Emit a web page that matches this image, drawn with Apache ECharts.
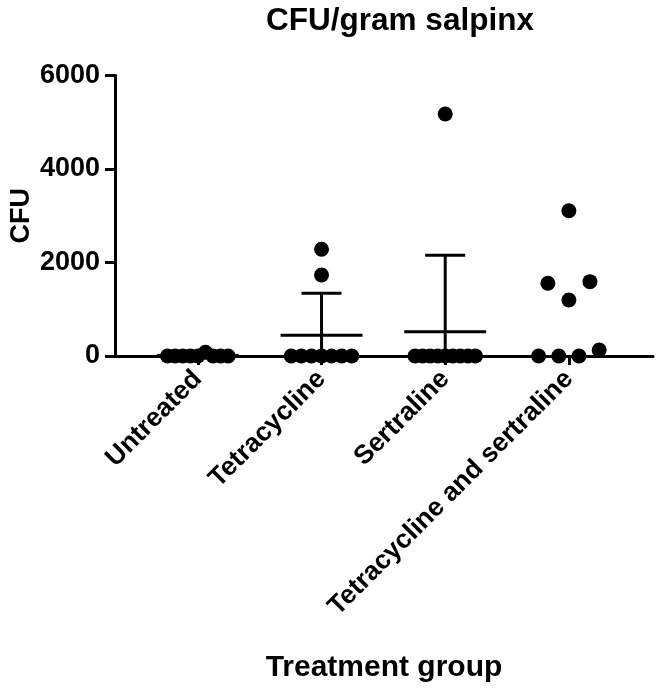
<!DOCTYPE html>
<html>
<head>
<meta charset="utf-8">
<script src="https://cdn.jsdelivr.net/npm/echarts@6/dist/echarts.min.js"></script>
<style>html,body{margin:0;padding:0;background:#fff}#c{width:660px;height:689px}</style>
</head>
<body>
<div id="c"></div>
<script>
// ---- data ----
var categories = ['Untreated', 'Tetracycline', 'Sertraline', 'Tetracycline and sertraline'];
var untreated = [0, 0, 0, 0, 0, 80, 0, 0, 0];
var tetracycline = [0, 0, 0, 2282, 1733, 0, 0, 0, 0];
var sertraline = [5176, 0, 0, 0, 0, 0, 0, 0, 0, 0];
var tetSert = [0, 0, 0, 128, 1555, 1198, 1590, 3108];
var groups = [untreated, tetracycline, sertraline, tetSert];
var errorBarGroups = [0, 1, 2];   // groups drawn with mean ± SD
var yTicks = [0, 2000, 4000, 6000];

// ---- derived ----
function mean(a){ var s=0; a.forEach(function(v){s+=v;}); return s/a.length; }
function sd(a){ var m=mean(a), s=0; a.forEach(function(v){s+=(v-m)*(v-m);}); return Math.sqrt(s/(a.length-1)); }

// simple column-scatter spreading: rows of similar value spread horizontally
var ROW_TOL = 500, MAX_STEP = 0.17, MAX_WIDTH = 0.49;
var scatterData = [];
groups.forEach(function(vals, gi){
  var idx = vals.map(function(v,i){return i;});
  var sorted = idx.slice().sort(function(a,b){return vals[a]-vals[b];});
  var rows = [], cur = null;
  sorted.forEach(function(i){
    if (cur && vals[i] - vals[cur[0]] <= ROW_TOL) cur.push(i);
    else { cur = [i]; rows.push(cur); }
  });
  rows.forEach(function(r){
    r.sort(function(a,b){return a-b;});
    var n = r.length;
    var step = n > 1 ? Math.min(MAX_STEP, MAX_WIDTH/(n-1)) : 0;
    r.forEach(function(i, k){
      scatterData.push([gi + (k - (n-1)/2) * step, vals[i]]);
    });
  });
});
var errData = errorBarGroups.map(function(gi){ return [gi, mean(groups[gi]), sd(groups[gi])]; });

var FONT = 'Liberation Sans';
var chart = echarts.init(document.getElementById('c'));
chart.setOption({
  animation: false,
  backgroundColor: '#fff',
  title: {
    text: 'CFU/gram salpinx',
    left: 395, top: 0, textAlign: 'center',
    textStyle: {fontFamily: FONT, fontWeight: 'bold', fontSize: 31.5, color: '#000'}
  },
  grid: {left: 115, right: 7, top: 75.5, bottom: 333, containLabel: false, outerBoundsMode: 'none'},
  xAxis: {
    type: 'value', min: -0.67, max: 3.68,
    name: 'Treatment group', nameLocation: 'middle', nameGap: 297, nameMoveOverlap: false,
    nameTextStyle: {fontFamily: FONT, fontWeight: 'bold', fontSize: 30, color: '#000'},
    splitLine: {show: false},
    axisLine: {show: true, onZero: false, lineStyle: {color: '#000', width: 3}},
    axisTick: {show: true, customValues: [0,1,2,3], length: 9, lineStyle: {color: '#000', width: 3}},
    axisLabel: {
      customValues: [0,1,2,3], rotate: 45, margin: 19,
      formatter: function(v){ return categories[Math.round(v)]; },
      fontFamily: FONT, fontWeight: 'bold', fontSize: 26.5, color: '#000'
    }
  },
  yAxis: {
    type: 'value', min: 0, max: 6000, interval: 2000,
    name: 'CFU', nameLocation: 'middle', nameGap: 80, nameMoveOverlap: false,
    nameTextStyle: {fontFamily: FONT, fontWeight: 'bold', fontSize: 27, color: '#000'},
    splitLine: {show: false},
    axisLine: {show: true, onZero: false, lineStyle: {color: '#000', width: 3}},
    axisTick: {show: true, length: 10, lineStyle: {color: '#000', width: 3}},
    axisLabel: {
      margin: 15,
      formatter: function(v){ return yTicks.indexOf(v) >= 0 ? String(v) : ''; },
      fontFamily: FONT, fontWeight: 'bold', fontSize: 27, color: '#000'
    }
  },
  series: [
    {
      type: 'custom', clip: false, z: 3,
      data: errData,
      renderItem: function(params, api){
        var g = api.value(0), m = api.value(1), s = api.value(2);
        var pm = api.coord([g, m]);
        var pt = api.coord([g, m + s]);
        var pb = api.coord([g, Math.max(0, m - s)]);
        var st = {stroke: '#000', lineWidth: 3};
        return {type: 'group', children: [
          {type: 'line', shape: {x1: pm[0]-41, y1: pm[1], x2: pm[0]+41, y2: pm[1]}, style: st},
          {type: 'line', shape: {x1: pm[0], y1: pb[1], x2: pm[0], y2: pt[1]}, style: st},
          {type: 'line', shape: {x1: pt[0]-20, y1: pt[1], x2: pt[0]+20, y2: pt[1]}, style: st}
        ]};
      }
    },
    {
      type: 'scatter', clip: false, z: 4,
      symbol: 'circle', symbolSize: 15,
      itemStyle: {color: '#000', opacity: 1},
      data: scatterData
    }
  ]
});
</script>
</body>
</html>
